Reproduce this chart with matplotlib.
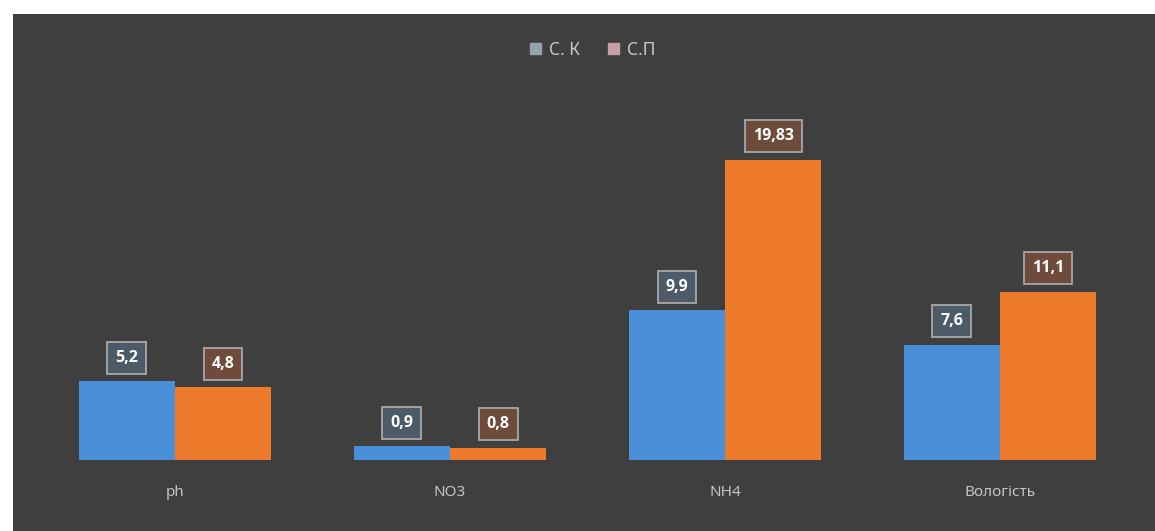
import numpy as np
import matplotlib.pyplot as plt
from matplotlib.patches import Rectangle, Patch

categories = ['ph', 'NO3', 'NH4', 'Вологість']
series_names = ['С. К', 'С.П']
s_k = [5.2, 0.9, 9.9, 7.6]
s_p = [4.8, 0.8, 19.83, 11.1]
labels_k = ['5,2', '0,9', '9,9', '7,6']
labels_p = ['4,8', '0,8', '19,83', '11,1']

plt.rcParams['font.family'] = ['Noto Sans', 'DejaVu Sans']

W, H = 1155, 531
fig = plt.figure(figsize=(W / 100, H / 100), dpi=100)
fig.patch.set_facecolor('white')

# dark chart panel, drawn behind the axes
fig.patches.append(Rectangle((13 / W, 0), 1, (H - 14) / H, transform=fig.transFigure,
                             facecolor='#3f3f3f', edgecolor='none', zorder=-1))

ax = fig.add_axes([37.5 / W, (H - 460) / H, 1100 / W, 333 / H])
ax.set_facecolor('none')
ax.set_zorder(1)

x = np.arange(len(categories))
w = 0.35
blue = '#4a90d9'
orange = '#ee7b2c'
ax.bar(x - w / 2, s_k, w, color=blue, zorder=2)
ax.bar(x + w / 2, s_p, w, color=orange, zorder=2)

ax.set_xlim(-0.5, 3.5)
ax.set_ylim(0, 22)
for s in ax.spines.values():
    s.set_visible(False)
ax.set_yticks([])
ax.set_xticks(x)
ax.set_xticklabels(categories, color='#c4c4c4', fontsize=11)
ax.tick_params(axis='x', length=0, pad=18)

def add_labels(xs, vals, texts, fc):
    for xi, v, t in zip(xs, vals, texts):
        ax.annotate(t, (xi, v), xytext=(0, 17), textcoords='offset points',
                    ha='center', va='center', color='white', fontsize=11.5,
                    family=['Open Sans', 'DejaVu Sans'], fontweight='bold', zorder=5,
                    bbox=dict(boxstyle='square,pad=0.5', fc=fc, ec='#a8a8a8', lw=1.3))

add_labels(x - w / 2, s_k, labels_k, '#4d5a67')
add_labels(x + w / 2, s_p, labels_p, '#6e4b3b')

handles = [Patch(color='#95a3ab', label=series_names[0]),
           Patch(color='#c4a0a6', label=series_names[1])]
leg = fig.legend(handles=handles, loc='center', bbox_to_anchor=(593 / W, 1 - 50 / H),
                 ncol=2, frameon=False, fontsize=12.5, labelcolor='#c8c8c8',
                 handlelength=0.6, handleheight=0.6, handletextpad=0.5, columnspacing=1.6)

fig.savefig('out.png', dpi=100)
